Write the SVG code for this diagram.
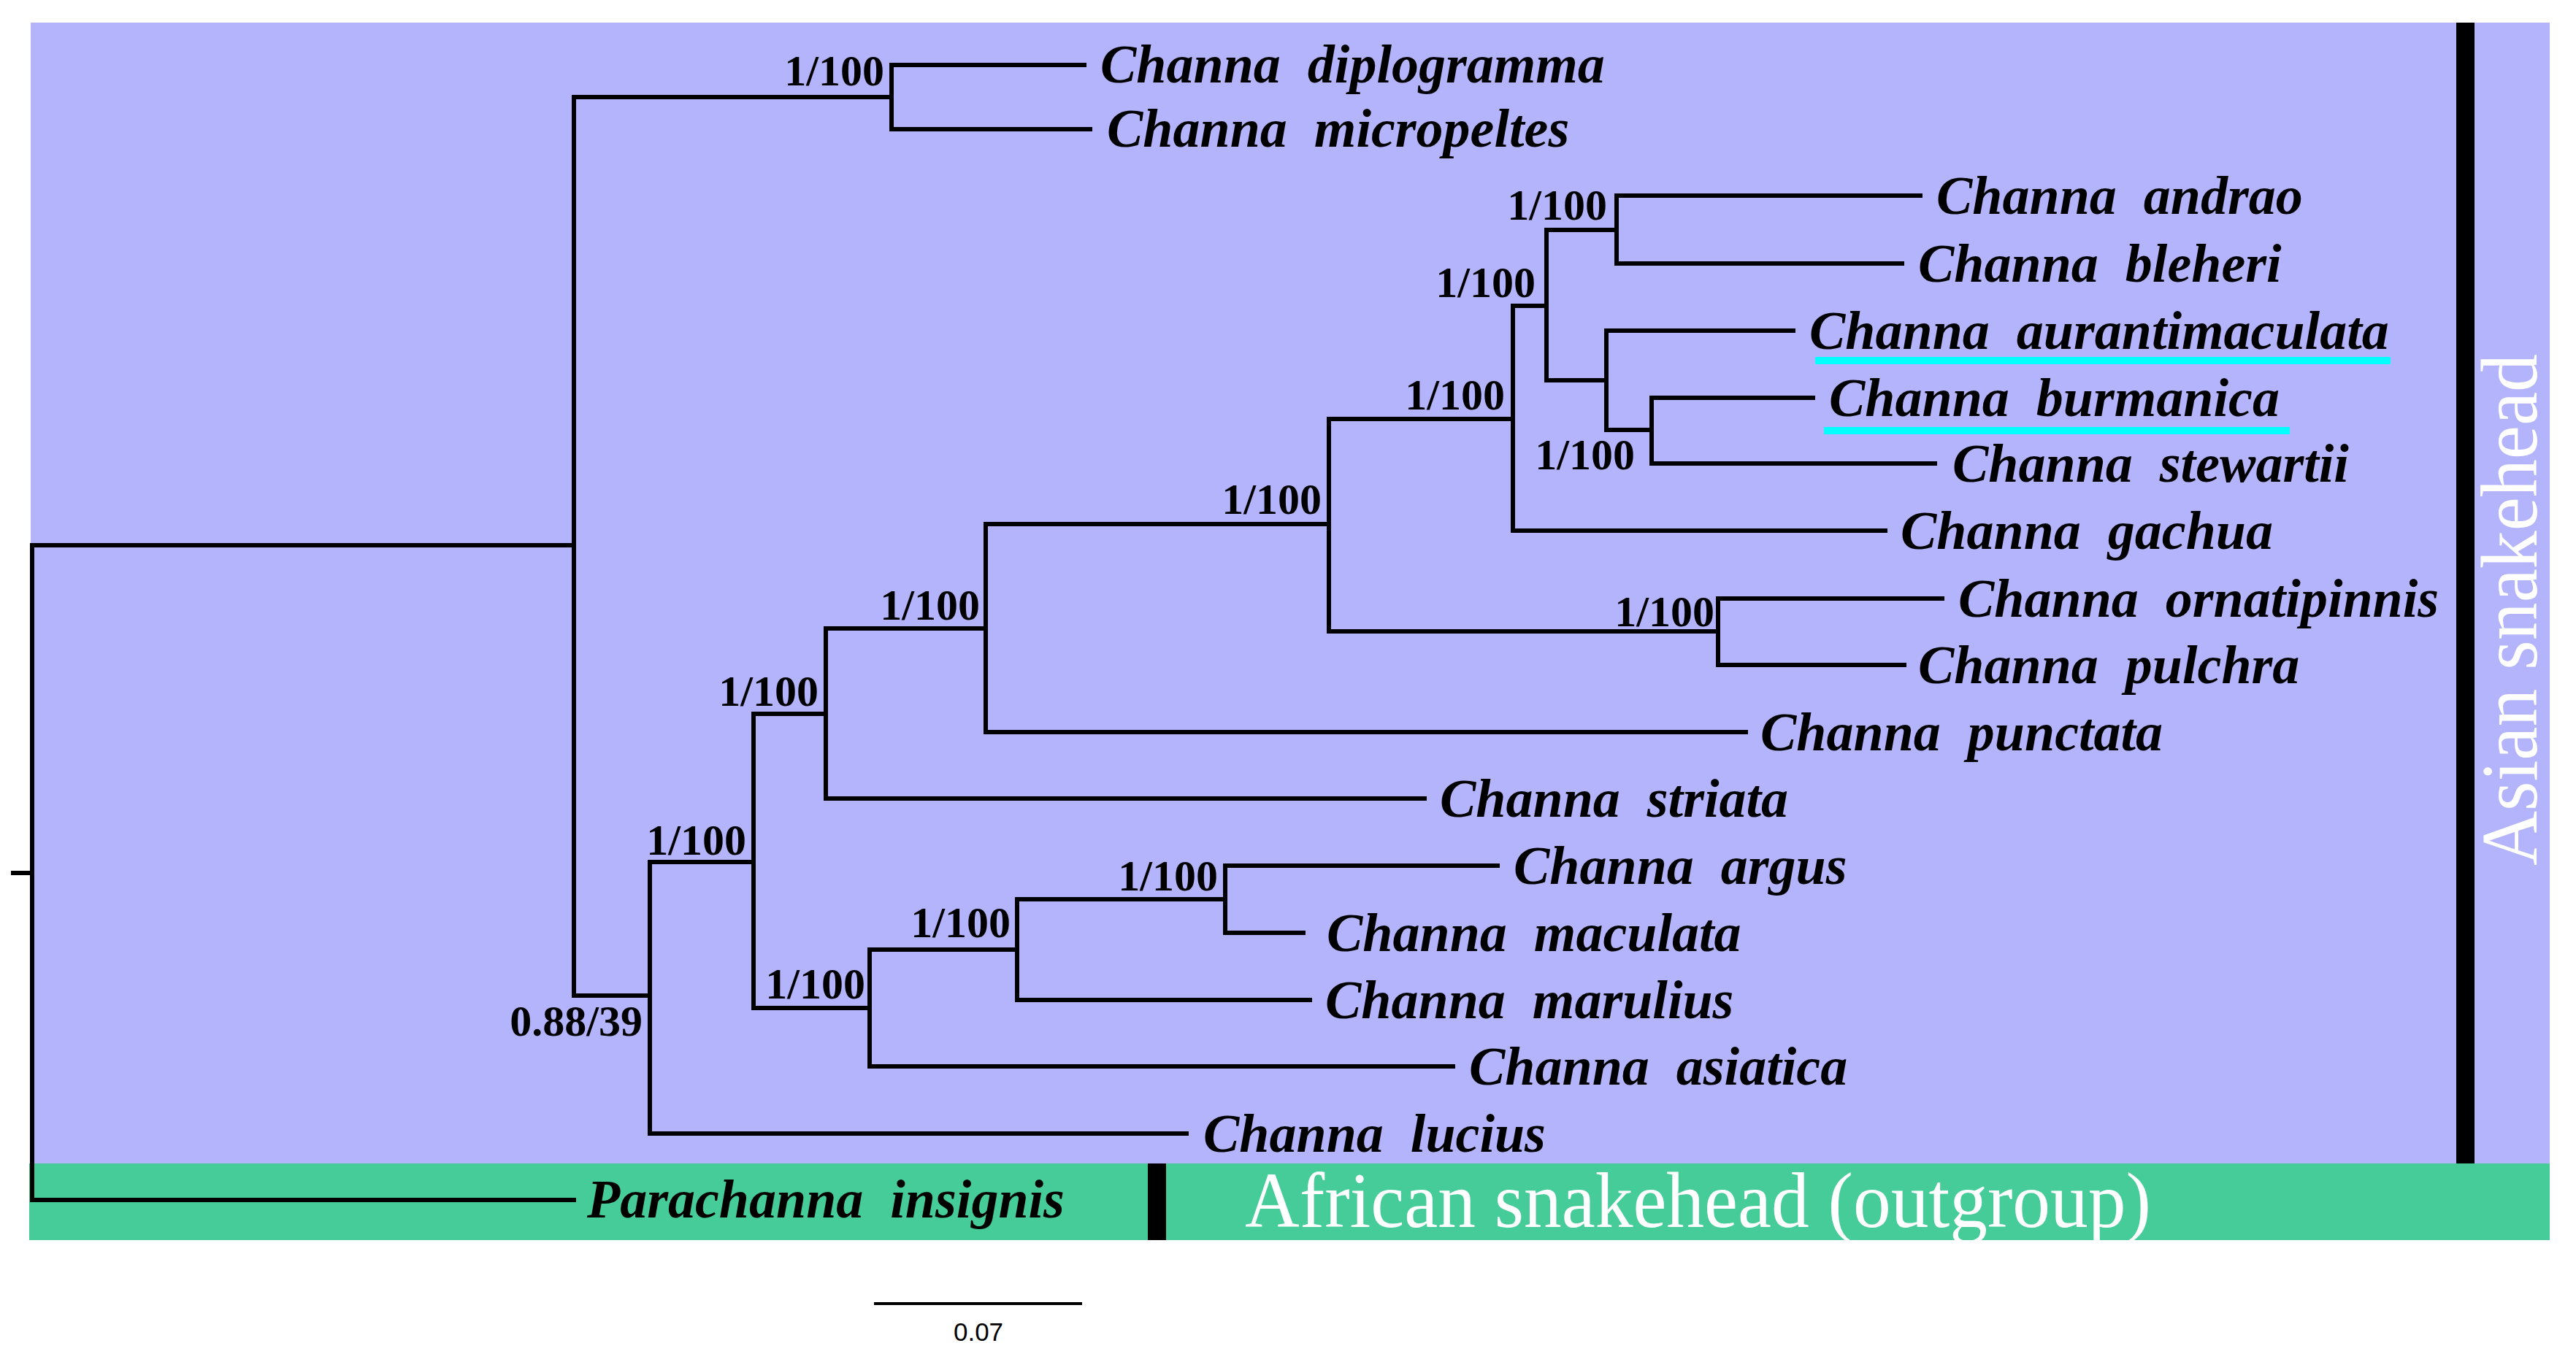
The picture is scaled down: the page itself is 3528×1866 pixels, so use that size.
<svg xmlns="http://www.w3.org/2000/svg" width="3528" height="1866" viewBox="0 0 3528 1866">
<style>
.br{fill:none;stroke:#000;stroke-width:6;stroke-linecap:square}
.tx{font-family:"Liberation Serif","Times New Roman",serif;font-style:italic;font-weight:bold;font-size:74px;fill:#000;white-space:pre}
.sp{font-family:"Liberation Serif","Times New Roman",serif;font-weight:bold;font-size:60px;fill:#000;text-anchor:end}
.grp{font-family:"Liberation Serif","Times New Roman",serif;fill:#fff}
.ul{fill:#00ffff}
</style>
<rect x="0" y="0" width="3528" height="1866" fill="#fff"/>
<g id="bg">
<rect x="42" y="31" width="3450" height="1563" fill="#b4b4fc"/>
<rect x="40" y="1594" width="3452" height="105" fill="#45cc98"/>
<rect x="3364" y="31" width="25" height="1563" fill="#000"/>
<rect x="1572" y="1594" width="25" height="105" fill="#000"/>
<text class="grp" transform="translate(3474,1186) rotate(-90)" font-size="110" textLength="701" lengthAdjust="spacingAndGlyphs" fill="#f6f6ff">Asian snakehead</text>
<text class="grp" x="1705" y="1681" font-size="107" textLength="1241" lengthAdjust="spacingAndGlyphs">African snakehead (outgroup)</text>
</g>
<g id="connectors">
<path class="br" d="M18 1196H44M44 747V1644"/>
<path class="br" d="M44 747H786M786 133V1364"/>
<path class="br" d="M786 133H1221M1221 89V177"/>
<path class="br" d="M786 1364H890M890 1181V1553"/>
<path class="br" d="M890 1181H1032M1032 978V1381"/>
<path class="br" d="M1032 978H1131M1131 861V1094"/>
<path class="br" d="M1131 861H1350M1350 718V1003"/>
<path class="br" d="M1350 718H1820M1820 574V865"/>
<path class="br" d="M1820 574H2072M2072 419V727"/>
<path class="br" d="M2072 419H2118M2118 315V521"/>
<path class="br" d="M2118 315H2214M2214 268V361"/>
<path class="br" d="M2118 521H2200M2200 453V589"/>
<path class="br" d="M2200 589H2262M2262 545V635"/>
<path class="br" d="M1820 865H2353M2353 820V911"/>
<path class="br" d="M1032 1381H1191M1191 1301V1461"/>
<path class="br" d="M1191 1301H1393M1393 1232V1370"/>
<path class="br" d="M1393 1232H1678M1678 1186V1278"/>
<path class="br" d="M1221 89H1485"/>
<path class="br" d="M1221 177H1493"/>
<path class="br" d="M2214 268H2630"/>
<path class="br" d="M2214 361H2605"/>
<path class="br" d="M2200 453H2456"/>
<path class="br" d="M2262 545H2483"/>
<path class="br" d="M2262 635H2650"/>
<path class="br" d="M2072 727H2582"/>
<path class="br" d="M2353 820H2660"/>
<path class="br" d="M2353 911H2608"/>
<path class="br" d="M1350 1003H2391"/>
<path class="br" d="M1131 1094H1951"/>
<path class="br" d="M1678 1186H2051"/>
<path class="br" d="M1678 1278H1785"/>
<path class="br" d="M1393 1370H1794"/>
<path class="br" d="M1191 1461H1990"/>
<path class="br" d="M890 1553H1625"/>
<path class="br" d="M44 1644H786"/>
</g>
<g id="support">
<text class="sp" x="1211" y="117">1/100</text>
<text class="sp" x="2201" y="301">1/100</text>
<text class="sp" x="2103" y="407">1/100</text>
<text class="sp" x="2061" y="561">1/100</text>
<text class="sp" x="2239" y="643">1/100</text>
<text class="sp" x="1810" y="704">1/100</text>
<text class="sp" x="1342" y="849">1/100</text>
<text class="sp" x="2348" y="858">1/100</text>
<text class="sp" x="1121" y="967">1/100</text>
<text class="sp" x="1022" y="1171">1/100</text>
<text class="sp" x="1668" y="1220">1/100</text>
<text class="sp" x="1384" y="1284">1/100</text>
<text class="sp" x="1185" y="1368">1/100</text>
<text class="sp" x="880" y="1419">0.88/39</text>
</g>
<g id="leaves">
<g id="n-diplogramma"><text class="tx" xml:space="preserve" x="1507" y="113">Channa  diplogramma</text></g>
<g id="n-micropeltes"><text class="tx" xml:space="preserve" x="1516" y="201">Channa  micropeltes</text></g>
<g id="n-andrao"><text class="tx" xml:space="preserve" x="2652" y="293">Channa  andrao</text></g>
<g id="n-bleheri"><text class="tx" xml:space="preserve" x="2627" y="386">Channa  bleheri</text></g>
<g id="n-aurantimaculata"><rect class="ul" x="2486" y="489" width="788" height="10"/><text class="tx" xml:space="preserve" x="2478" y="478">Channa  aurantimaculata</text></g>
<g id="n-burmanica"><rect class="ul" x="2498" y="585" width="638" height="10"/><text class="tx" xml:space="preserve" x="2505" y="570">Channa  burmanica</text></g>
<g id="n-stewartii"><text class="tx" xml:space="preserve" x="2674" y="660">Channa  stewartii</text></g>
<g id="n-gachua"><text class="tx" xml:space="preserve" x="2603" y="752">Channa  gachua</text></g>
<g id="n-ornatipinnis"><text class="tx" xml:space="preserve" x="2682" y="845">Channa  ornatipinnis</text></g>
<g id="n-pulchra"><text class="tx" xml:space="preserve" x="2627" y="936">Channa  pulchra</text></g>
<g id="n-punctata"><text class="tx" xml:space="preserve" x="2411" y="1028">Channa  punctata</text></g>
<g id="n-striata"><text class="tx" xml:space="preserve" x="1972" y="1119">Channa  striata</text></g>
<g id="n-argus"><text class="tx" xml:space="preserve" x="2073" y="1211">Channa  argus</text></g>
<g id="n-maculata"><text class="tx" xml:space="preserve" x="1817" y="1303">Channa  maculata</text></g>
<g id="n-marulius"><text class="tx" xml:space="preserve" x="1815" y="1395">Channa  marulius</text></g>
<g id="n-asiatica"><text class="tx" xml:space="preserve" x="2012" y="1486">Channa  asiatica</text></g>
<g id="n-lucius"><text class="tx" xml:space="preserve" x="1648" y="1578">Channa  lucius</text></g>
<g id="n-parachanna"><text class="tx" xml:space="preserve" x="804" y="1668">Parachanna  insignis</text></g>
</g>
<g id="scale">
<path d="M1197 1786H1482" stroke="#000" stroke-width="4"/>
<text x="1340" y="1837" text-anchor="middle" font-family="'Liberation Sans',Arial,sans-serif" font-size="35" fill="#000">0.07</text>
</g>
</svg>
